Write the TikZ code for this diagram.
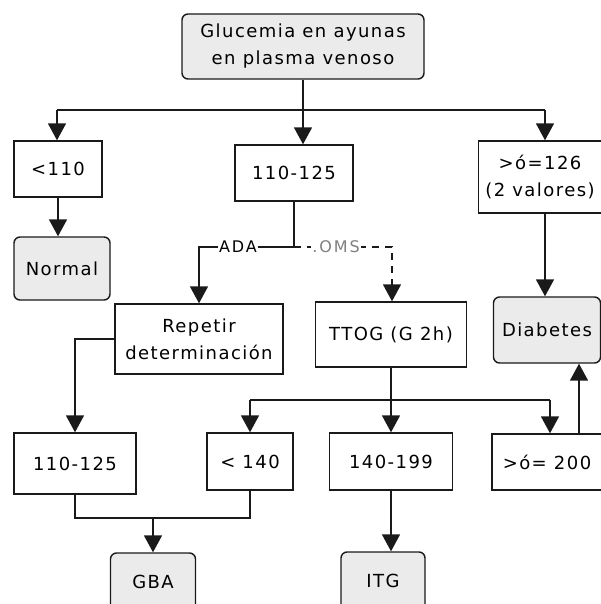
\documentclass[tikz,border=0pt]{standalone}
\usepackage{fontspec}
\usetikzlibrary{arrows.meta}
\newfontfamily\boxfont[LetterSpace=8]{DejaVu Sans}
\newfontfamily\lblfont[LetterSpace=12]{DejaVu Sans}
\definecolor{termgray}{HTML}{EBEBEB}
\definecolor{linec}{HTML}{1A1A1A}
\definecolor{lblgray}{HTML}{808080}
\begin{document}
\begin{tikzpicture}[x=1pt,y=-1pt,
  box/.style={draw=linec, line width=1.4pt, fill=white, inner sep=0pt, align=center,
    font={\boxfont\fontsize{18}{27}\selectfont}},
  term/.style={box, rounded corners=6pt, fill=termgray},
  conn/.style={draw=linec, line width=1.7pt},
  arr/.style={conn, -{Triangle[width=18pt,length=17pt]}},
  lbl/.style={fill=white, inner sep=1pt, font={\lblfont\fontsize{16}{18}\selectfont}},
]
\useasboundingbox (0,0) rectangle (601,604);
\clip (0,0) rectangle (601,604);

% nodes
\node[term, minimum width=242pt, minimum height=65pt] (top) at (303,46.5) {Glucemia en ayunas\\en plasma venoso};
\node[box, minimum width=88pt, minimum height=56pt] (lt110) at (58,169) {<110};
\node[term, minimum width=96pt, minimum height=63pt] (normal) at (62,268.5) {Normal};
\node[box, minimum width=118pt, minimum height=56pt] (mid) at (294,173) {110-125};
\node[box, minimum width=123pt, minimum height=72pt] (ge126) at (540,177) {>ó=126\\(2 valores)};
\node[term, minimum width=107pt, minimum height=66pt] (diab) at (547,330) {Diabetes};
\node[box, minimum width=168pt, minimum height=70pt] (rep) at (199,339) {Repetir\\determinación};
\node[box, minimum width=151pt, minimum height=65pt] (ttog) at (391,334.5) {TTOG (G 2h)};
\node[box, minimum width=122pt, minimum height=61pt] (b110) at (75,463.5) {110-125};
\node[box, minimum width=86pt, minimum height=57pt] (lt140) at (250,461.5) {< 140};
\node[box, minimum width=123pt, minimum height=57pt] (r140) at (391,461.5) {140-199};
\node[box, minimum width=110pt, minimum height=56pt] (ge200) at (547,462) {>ó= 200};
\node[term, minimum width=85pt, minimum height=58pt] (gba) at (153,582) {GBA};
\node[term, minimum width=84pt, minimum height=58pt] (itg) at (383,581) {ITG};

% coordinates
\coordinate (hl) at (57,110);
\coordinate (hr) at (545,110);
\coordinate (j) at (294,247);
\coordinate (jo) at (392,247);
\coordinate (t) at (391,400);
\coordinate (tr) at (550,400);
\coordinate (m) at (75,518);
\coordinate (ux) at (579,0);

% top distribution
\draw[conn] (top.south) -- (top.south |- hl);
\draw[conn] (hl) -- (hr);
\draw[arr] (hl) -- (hl |- lt110.north);
\draw[arr] (top.south |- hl) -- (top.south |- mid.north);
\draw[arr] (hr) -- (hr |- ge126.north);

\draw[arr] (lt110.south) -- (lt110.south |- normal.north);
\draw[arr] (ge126.south -| hr) -- (diab.north -| hr);

% ADA / OMS
\draw[conn] (mid.south) -- (j);
\draw[arr] (j) -- node[lbl, pos=0.59, text=black] {ADA} (j -| rep.north) -- (rep.north);
\draw[arr, dash pattern=on 7pt off 6pt] (j) -- node[lbl, pos=0.43, text=lblgray] {.OMS} (jo) -- (jo |- ttog.north);

% Repetir -> 110-125
\draw[arr] (rep.west) -- (rep.west -| b110.north) -- (b110.north);

% TTOG distribution
\draw[arr] (ttog.south) -- (r140.north);
\draw[conn] (lt140.north |- t) -- (tr);
\draw[arr] (lt140.north |- t) -- (lt140.north);
\draw[arr] (tr) -- (tr |- ge200.north);

% >=200 -> Diabetes
\draw[arr] (ge200.north -| ux) -- (diab.south -| ux);

% merge to GBA
\draw[conn] (b110.south) -- (m) -- (lt140.south |- m) -- (lt140.south);
\draw[arr] (gba.north |- m) -- (gba.north);

% 140-199 -> ITG
\draw[arr] (r140.south) -- (r140.south |- itg.north);
\end{tikzpicture}
\end{document}
